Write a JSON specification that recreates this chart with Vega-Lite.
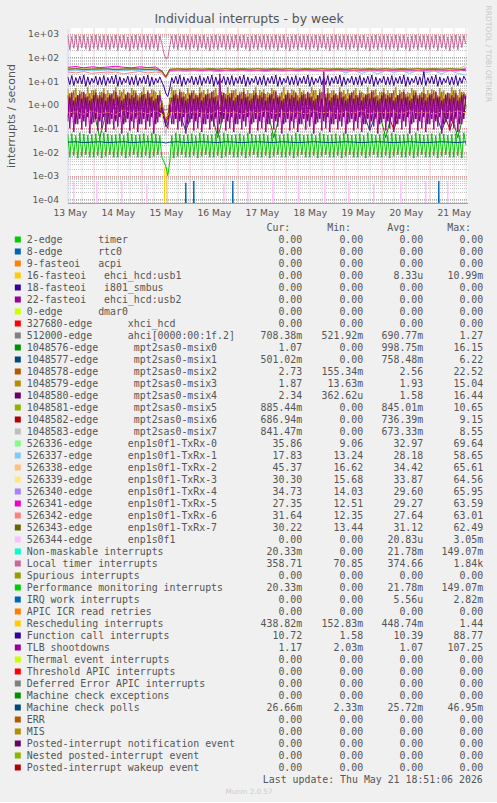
{
"$schema":"https://vega.github.io/schema/vega-lite/v6.json",
"background":"#F0F0F0",
"padding":{"left":5.5,"top":5,"right":6,"bottom":7},
"autosize":{"type":"pad"},
"bounds":"flush",
"spacing":24.5,
"resolve":{"scale":{"color":"independent"}},
"config":{
 "view":{"stroke":null},
 "axis":{"labelFont":"DejaVu Sans","titleFont":"DejaVu Sans","labelColor":"#555555","titleColor":"#555555","titleFontWeight":"normal"},
 "text":{"font":"DejaVu Sans Mono","fontSize":9.9,"color":"#555555"}
},
"datasets":{
"hr":[
{"h":11,"L":820,"F":15,"T":2.5,"a":0.3,"b":4.5,"c":0.2,"P":0.055},
{"h":12,"L":210,"F":7,"T":0.1,"a":3,"b":0.5,"c":2,"P":0.006},
{"h":13,"L":760,"F":17,"T":3,"a":0.5,"b":3.5,"c":0.3,"P":0.06},
{"h":14,"L":240,"F":6.5,"T":0.07,"a":4,"b":0.4,"c":1.5,"P":0.007},
{"h":15,"L":880,"F":14,"T":2,"a":0.25,"b":5,"c":0.15,"P":0.05},
{"h":16,"L":195,"F":8,"T":0.15,"a":2.5,"b":0.6,"c":2.5,"P":0.0055},
{"h":17,"L":790,"F":16,"T":2.8,"a":0.4,"b":4,"c":0.25,"P":0.065},
{"h":18,"L":250,"F":7.5,"T":0.09,"a":3.5,"b":0.35,"c":1.8,"P":0.0065},
{"h":19,"L":850,"F":18,"T":3.5,"a":0.35,"b":3,"c":0.2,"P":0.058},
{"h":20,"L":220,"F":6,"T":0.12,"a":2.8,"b":0.7,"c":2,"P":0.0075},
{"h":21,"L":730,"F":15,"T":2.2,"a":0.3,"b":5.5,"c":0.3,"P":0.052},
{"h":22,"L":185,"F":7,"T":0.06,"a":3,"b":0.45,"c":1.5,"P":0.006},
{"h":23,"L":810,"F":13,"T":1.8,"a":0.5,"b":4.2,"c":0.15,"P":0.055},
{"h":24,"L":235,"F":8.5,"T":0.18,"a":4,"b":0.55,"c":2.5,"P":0.006},
{"h":25,"L":870,"F":16,"T":3.2,"a":0.25,"b":4.5,"c":0.25,"P":0.06},
{"h":26,"L":205,"F":6.8,"T":0.08,"a":2.5,"b":0.5,"c":1.8,"P":0.007},
{"h":27,"L":780,"F":15,"T":2.5,"a":0.4,"b":3.5,"c":0.2,"P":0.05},
{"h":28,"L":260,"F":7,"T":0.1,"a":3.5,"b":0.4,"c":2,"P":0.0055},
{"h":29,"L":840,"F":17,"T":3,"a":0.35,"b":5,"c":0.3,"P":0.065},
{"h":30,"L":215,"F":6.5,"T":0.07,"a":2.8,"b":0.6,"c":1.5,"P":0.0065},
{"h":31,"L":820,"F":14,"T":2,"a":0.3,"b":4,"c":0.15,"P":0.058},
{"h":32,"L":210,"F":8,"T":0.15,"a":3,"b":0.35,"c":2.5,"P":0.0075},
{"h":33,"L":760,"F":16,"T":2.8,"a":0.5,"b":3,"c":0.25,"P":0.052},
{"h":34,"L":240,"F":7.5,"T":0.09,"a":4,"b":0.7,"c":1.8,"P":0.006},
{"h":35,"L":880,"F":18,"T":3.5,"a":0.25,"b":5.5,"c":0.2,"P":0.055},
{"h":36,"L":195,"F":6,"T":0.12,"a":2.5,"b":0.45,"c":2,"P":0.006},
{"h":37,"L":790,"F":15,"T":2.2,"a":0.4,"b":4.2,"c":0.3,"P":0.06},
{"h":38,"L":250,"F":7,"T":0.06,"a":3.5,"b":0.55,"c":1.5,"P":0.007},
{"h":39,"L":850,"F":13,"T":1.8,"a":0.35,"b":4.5,"c":0.15,"P":0.05},
{"h":40,"L":220,"F":8.5,"T":0.18,"a":2.8,"b":0.5,"c":2.5,"P":0.0055},
{"h":41,"L":730,"F":16,"T":3.2,"a":0.3,"b":3.5,"c":0.25,"P":0.065},
{"h":42,"L":185,"F":6.8,"T":0.08,"a":3,"b":0.4,"c":1.8,"P":0.0065},
{"h":43,"L":810,"F":15,"T":2.5,"a":0.5,"b":5,"c":0.2,"P":0.058},
{"h":44,"L":235,"F":7,"T":0.1,"a":4,"b":0.6,"c":2,"P":0.0075},
{"h":45,"L":870,"F":17,"T":3,"a":0.25,"b":4,"c":0.3,"P":0.052},
{"h":46,"L":205,"F":6.5,"T":0.07,"a":2.5,"b":0.35,"c":1.5,"P":0.006},
{"h":47,"L":780,"F":14,"T":2,"a":0.4,"b":3,"c":0.15,"P":0.055},
{"h":48,"L":260,"F":8,"T":0.15,"a":3.5,"b":0.7,"c":2.5,"P":0.006},
{"h":49,"L":840,"F":16,"T":2.8,"a":0.35,"b":5.5,"c":0.25,"P":0.06},
{"h":50,"L":215,"F":7.5,"T":0.09,"a":2.8,"b":0.45,"c":1.8,"P":0.007},
{"h":51,"L":820,"F":18,"T":3.5,"a":0.3,"b":4.2,"c":0.2,"P":0.05},
{"h":52,"L":210,"F":6,"T":0.12,"a":3,"b":0.55,"c":2,"P":0.0055},
{"h":53,"L":760,"F":15,"T":2.2,"a":0.5,"b":4.5,"c":0.3,"P":0.065},
{"h":54,"L":240,"F":7,"T":0.06,"a":4,"b":0.5,"c":1.5,"P":0.0065},
{"h":55,"L":880,"F":13,"T":1.8,"a":0.25,"b":3.5,"c":0.15,"P":0.058},
{"h":56,"L":195,"F":8.5,"T":0.18,"a":2.5,"b":0.4,"c":2.5,"P":0.0075},
{"h":57,"L":800,"F":15,"T":2.5,"a":0.4,"b":4,"c":0.3,"P":0.05},
{"h":58,"L":400,"F":9,"T":0.8,"a":1.5,"b":1,"c":0.8,"P":0.006},
{"h":59,"L":150,"F":6,"T":0.4,"a":0.5,"b":0.4,"c":0.3,"P":0.004},
{"h":60,"L":88,"F":3,"T":0.15,"a":0.2,"b":0.25,"c":0.12,"P":0.0025},
{"h":61,"L":95,"F":2.2,"T":0.1,"a":0.3,"b":0.3,"c":0.15,"P":0.001},
{"h":62,"L":300,"F":5,"T":0.5,"a":2,"b":0.6,"c":1,"P":0.004},
{"h":63,"L":810,"F":14,"T":2,"a":0.5,"b":5.5,"c":0.15,"P":0.05},
{"h":64,"L":235,"F":8,"T":0.15,"a":4,"b":0.45,"c":2.5,"P":0.0055},
{"h":65,"L":870,"F":16,"T":2.8,"a":0.25,"b":4.2,"c":0.25,"P":0.065},
{"h":66,"L":205,"F":7.5,"T":0.09,"a":2.5,"b":0.55,"c":1.8,"P":0.0065},
{"h":67,"L":780,"F":18,"T":3.5,"a":0.4,"b":4.5,"c":0.2,"P":0.058},
{"h":68,"L":260,"F":6,"T":0.12,"a":3.5,"b":0.5,"c":2,"P":0.0075},
{"h":69,"L":840,"F":15,"T":2.2,"a":0.35,"b":3.5,"c":0.3,"P":0.052},
{"h":70,"L":215,"F":7,"T":0.06,"a":2.8,"b":0.4,"c":1.5,"P":0.006},
{"h":71,"L":820,"F":13,"T":1.8,"a":0.3,"b":5,"c":0.15,"P":0.055},
{"h":72,"L":210,"F":8.5,"T":0.18,"a":3,"b":0.6,"c":2.5,"P":0.006},
{"h":73,"L":760,"F":16,"T":3.2,"a":0.5,"b":4,"c":0.25,"P":0.06},
{"h":74,"L":240,"F":6.8,"T":0.08,"a":4,"b":0.35,"c":1.8,"P":0.007},
{"h":75,"L":880,"F":15,"T":2.5,"a":0.25,"b":3,"c":0.2,"P":0.05},
{"h":76,"L":195,"F":7,"T":0.1,"a":2.5,"b":0.7,"c":2,"P":0.0055},
{"h":77,"L":790,"F":17,"T":3,"a":0.4,"b":5.5,"c":0.3,"P":0.065},
{"h":78,"L":250,"F":6.5,"T":0.07,"a":3.5,"b":0.45,"c":1.5,"P":0.0065},
{"h":79,"L":850,"F":14,"T":2,"a":0.35,"b":4.2,"c":0.15,"P":0.058},
{"h":80,"L":220,"F":8,"T":0.15,"a":2.8,"b":0.55,"c":2.5,"P":0.0075},
{"h":81,"L":730,"F":16,"T":2.8,"a":0.3,"b":4.5,"c":0.25,"P":0.052},
{"h":82,"L":185,"F":7.5,"T":0.09,"a":3,"b":0.5,"c":1.8,"P":0.006},
{"h":83,"L":810,"F":18,"T":3.5,"a":0.5,"b":3.5,"c":0.2,"P":0.055},
{"h":84,"L":235,"F":6,"T":0.12,"a":4,"b":0.4,"c":2,"P":0.006},
{"h":85,"L":870,"F":15,"T":2.2,"a":0.25,"b":5,"c":0.3,"P":0.06},
{"h":86,"L":205,"F":7,"T":0.06,"a":2.5,"b":0.6,"c":1.5,"P":0.007},
{"h":87,"L":780,"F":13,"T":20,"a":0.4,"b":4,"c":0.15,"P":0.05},
{"h":88,"L":260,"F":8.5,"T":0.18,"a":3.5,"b":0.35,"c":2.5,"P":0.0055},
{"h":89,"L":840,"F":16,"T":3.2,"a":0.35,"b":3,"c":0.25,"P":0.065},
{"h":90,"L":215,"F":6.8,"T":0.08,"a":2.8,"b":0.7,"c":1.8,"P":0.0065},
{"h":91,"L":820,"F":15,"T":2.5,"a":0.3,"b":5.5,"c":0.2,"P":0.058},
{"h":92,"L":210,"F":7,"T":0.1,"a":3,"b":0.45,"c":2,"P":0.0075},
{"h":93,"L":760,"F":17,"T":3,"a":0.5,"b":4.2,"c":0.3,"P":0.052},
{"h":94,"L":240,"F":6.5,"T":0.07,"a":4,"b":0.55,"c":1.5,"P":0.006},
{"h":95,"L":880,"F":14,"T":2,"a":0.25,"b":4.5,"c":0.15,"P":0.055},
{"h":96,"L":195,"F":8,"T":0.15,"a":2.5,"b":0.5,"c":2.5,"P":0.006},
{"h":97,"L":790,"F":16,"T":2.8,"a":0.4,"b":3.5,"c":0.25,"P":0.06},
{"h":98,"L":250,"F":7.5,"T":0.09,"a":3.5,"b":0.4,"c":1.8,"P":0.007},
{"h":99,"L":850,"F":18,"T":3.5,"a":0.35,"b":5,"c":0.2,"P":0.05},
{"h":100,"L":220,"F":6,"T":0.12,"a":2.8,"b":0.6,"c":2,"P":0.0055},
{"h":101,"L":730,"F":15,"T":2.2,"a":0.3,"b":4,"c":0.3,"P":0.065},
{"h":102,"L":185,"F":7,"T":0.06,"a":3,"b":0.35,"c":1.5,"P":0.0065},
{"h":103,"L":810,"F":13,"T":1.8,"a":0.5,"b":3,"c":0.15,"P":0.058},
{"h":104,"L":235,"F":8.5,"T":0.18,"a":4,"b":0.7,"c":2.5,"P":0.0075},
{"h":105,"L":870,"F":16,"T":3.2,"a":0.25,"b":5.5,"c":0.25,"P":0.052},
{"h":106,"L":205,"F":6.8,"T":0.08,"a":2.5,"b":0.45,"c":1.8,"P":0.006},
{"h":107,"L":780,"F":15,"T":2.5,"a":0.4,"b":4.2,"c":0.2,"P":0.055},
{"h":108,"L":260,"F":7,"T":0.1,"a":3.5,"b":0.55,"c":2,"P":0.006},
{"h":109,"L":840,"F":17,"T":3,"a":0.35,"b":4.5,"c":0.3,"P":0.06},
{"h":110,"L":215,"F":6.5,"T":0.07,"a":2.8,"b":0.5,"c":1.5,"P":0.007},
{"h":111,"L":820,"F":14,"T":2,"a":0.3,"b":3.5,"c":0.15,"P":0.05},
{"h":112,"L":210,"F":8,"T":0.15,"a":3,"b":0.4,"c":2.5,"P":0.0055},
{"h":113,"L":760,"F":16,"T":2.8,"a":0.5,"b":5,"c":0.25,"P":0.065},
{"h":114,"L":240,"F":7.5,"T":0.09,"a":4,"b":0.6,"c":1.8,"P":0.0065},
{"h":115,"L":880,"F":18,"T":3.5,"a":0.25,"b":4,"c":0.2,"P":0.058},
{"h":116,"L":195,"F":6,"T":0.12,"a":2.5,"b":0.35,"c":2,"P":0.0075},
{"h":117,"L":790,"F":15,"T":2.2,"a":0.4,"b":3,"c":0.3,"P":0.052},
{"h":118,"L":250,"F":7,"T":0.06,"a":3.5,"b":0.7,"c":1.5,"P":0.006},
{"h":119,"L":850,"F":13,"T":1.8,"a":0.35,"b":5.5,"c":0.15,"P":0.055},
{"h":120,"L":220,"F":8.5,"T":0.18,"a":2.8,"b":0.45,"c":2.5,"P":0.006},
{"h":121,"L":730,"F":16,"T":3.2,"a":0.3,"b":4.2,"c":0.25,"P":0.06},
{"h":122,"L":185,"F":6.8,"T":0.08,"a":3,"b":0.55,"c":1.8,"P":0.007},
{"h":123,"L":810,"F":15,"T":2.5,"a":0.5,"b":4.5,"c":0.2,"P":0.05},
{"h":124,"L":235,"F":7,"T":0.1,"a":4,"b":0.5,"c":2,"P":0.0055},
{"h":125,"L":870,"F":17,"T":3,"a":0.25,"b":3.5,"c":0.3,"P":0.065},
{"h":126,"L":205,"F":6.5,"T":0.07,"a":2.5,"b":0.4,"c":1.5,"P":0.0065},
{"h":127,"L":780,"F":14,"T":2,"a":0.4,"b":5,"c":0.15,"P":0.058},
{"h":128,"L":260,"F":8,"T":0.15,"a":3.5,"b":0.6,"c":2.5,"P":0.0075},
{"h":129,"L":840,"F":16,"T":2.8,"a":0.35,"b":4,"c":0.25,"P":0.052},
{"h":130,"L":215,"F":7.5,"T":0.09,"a":2.8,"b":0.35,"c":1.8,"P":0.006},
{"h":131,"L":820,"F":18,"T":3.5,"a":0.3,"b":3,"c":0.2,"P":0.055},
{"h":132,"L":210,"F":6,"T":0.12,"a":3,"b":0.7,"c":2,"P":0.006},
{"h":133,"L":760,"F":15,"T":2.2,"a":0.5,"b":5.5,"c":0.3,"P":0.06},
{"h":134,"L":240,"F":7,"T":0.06,"a":4,"b":0.45,"c":1.5,"P":0.007},
{"h":135,"L":880,"F":13,"T":1.8,"a":0.25,"b":4.2,"c":0.15,"P":0.05},
{"h":136,"L":195,"F":8.5,"T":0.18,"a":2.5,"b":0.55,"c":2.5,"P":0.0055},
{"h":137,"L":790,"F":16,"T":3.2,"a":0.4,"b":4.5,"c":0.25,"P":0.065},
{"h":138,"L":250,"F":6.8,"T":0.08,"a":3.5,"b":0.5,"c":1.8,"P":0.0065},
{"h":139,"L":850,"F":15,"T":25,"a":0.35,"b":3.5,"c":0.2,"P":0.058},
{"h":140,"L":220,"F":7,"T":0.1,"a":2.8,"b":0.4,"c":2,"P":0.0075},
{"h":141,"L":730,"F":17,"T":3,"a":0.3,"b":5,"c":0.3,"P":0.052},
{"h":142,"L":185,"F":6.5,"T":0.07,"a":3,"b":0.6,"c":1.5,"P":0.006},
{"h":143,"L":810,"F":14,"T":2,"a":0.5,"b":4,"c":0.15,"P":0.055},
{"h":144,"L":235,"F":8,"T":0.15,"a":4,"b":0.35,"c":2.5,"P":0.006},
{"h":145,"L":870,"F":16,"T":2.8,"a":0.25,"b":3,"c":0.25,"P":0.06},
{"h":146,"L":205,"F":7.5,"T":0.09,"a":2.5,"b":0.7,"c":1.8,"P":0.007},
{"h":147,"L":780,"F":18,"T":3.5,"a":0.4,"b":5.5,"c":0.2,"P":0.05},
{"h":148,"L":260,"F":6,"T":0.12,"a":3.5,"b":0.45,"c":2,"P":0.0055},
{"h":149,"L":840,"F":15,"T":2.2,"a":0.35,"b":4.2,"c":0.3,"P":0.065},
{"h":150,"L":215,"F":7,"T":0.06,"a":2.8,"b":0.55,"c":1.5,"P":0.0065},
{"h":151,"L":820,"F":13,"T":1.8,"a":0.3,"b":4.5,"c":0.15,"P":0.058},
{"h":152,"L":210,"F":8.5,"T":0.18,"a":3,"b":0.5,"c":2.5,"P":0.0075},
{"h":153,"L":760,"F":16,"T":3.2,"a":0.5,"b":3.5,"c":0.25,"P":0.052},
{"h":154,"L":240,"F":6.8,"T":0.08,"a":4,"b":0.4,"c":1.8,"P":0.006},
{"h":155,"L":880,"F":15,"T":2.5,"a":0.25,"b":5,"c":0.2,"P":0.055},
{"h":156,"L":195,"F":7,"T":0.1,"a":2.5,"b":0.6,"c":2,"P":0.006},
{"h":157,"L":790,"F":17,"T":3,"a":0.4,"b":4,"c":0.3,"P":0.06},
{"h":158,"L":250,"F":6.5,"T":0.07,"a":3.5,"b":0.35,"c":1.5,"P":0.007},
{"h":159,"L":850,"F":14,"T":2,"a":0.35,"b":3,"c":0.15,"P":0.05},
{"h":160,"L":220,"F":8,"T":0.15,"a":2.8,"b":0.7,"c":2.5,"P":0.0055},
{"h":161,"L":730,"F":16,"T":2.8,"a":0.3,"b":5.5,"c":0.25,"P":0.065},
{"h":162,"L":185,"F":7.5,"T":0.09,"a":3,"b":0.45,"c":1.8,"P":0.0065},
{"h":163,"L":810,"F":18,"T":3.5,"a":0.5,"b":4.2,"c":0.2,"P":0.058},
{"h":164,"L":235,"F":6,"T":0.12,"a":4,"b":0.55,"c":2,"P":0.0075},
{"h":165,"L":870,"F":15,"T":2.2,"a":0.25,"b":4.5,"c":0.3,"P":0.052},
{"h":166,"L":205,"F":7,"T":0.06,"a":2.5,"b":0.5,"c":1.5,"P":0.006},
{"h":167,"L":780,"F":13,"T":1.8,"a":0.4,"b":3.5,"c":0.15,"P":0.055},
{"h":168,"L":260,"F":8.5,"T":0.18,"a":3.5,"b":0.4,"c":2.5,"P":0.006},
{"h":169,"L":840,"F":16,"T":3.2,"a":0.35,"b":5,"c":0.25,"P":0.06},
{"h":170,"L":215,"F":6.8,"T":0.08,"a":2.8,"b":0.6,"c":1.8,"P":0.007},
{"h":171,"L":820,"F":15,"T":2.5,"a":0.3,"b":4,"c":0.2,"P":0.05},
{"h":172,"L":210,"F":7,"T":0.1,"a":3,"b":0.35,"c":2,"P":0.0055},
{"h":173,"L":760,"F":17,"T":3,"a":0.5,"b":3,"c":0.3,"P":0.065},
{"h":174,"L":240,"F":6.5,"T":0.07,"a":4,"b":0.7,"c":1.5,"P":0.0065},
{"h":175,"L":880,"F":14,"T":2,"a":0.25,"b":5.5,"c":0.15,"P":0.058},
{"h":176,"L":195,"F":8,"T":0.15,"a":2.5,"b":0.45,"c":2.5,"P":0.0075},
{"h":177,"L":790,"F":16,"T":2.8,"a":0.4,"b":4.2,"c":0.25,"P":0.052},
{"h":178,"L":250,"F":7.5,"T":0.09,"a":3.5,"b":0.55,"c":1.8,"P":0.006},
{"h":179,"L":850,"F":18,"T":3.5,"a":0.35,"b":4.5,"c":0.2,"P":0.055},
{"h":180,"L":220,"F":6,"T":0.12,"a":2.8,"b":0.5,"c":2,"P":0.006},
{"h":181,"L":730,"F":15,"T":2.2,"a":0.3,"b":3.5,"c":0.3,"P":0.06},
{"h":182,"L":185,"F":7,"T":0.06,"a":3,"b":0.4,"c":1.5,"P":0.007},
{"h":183,"L":810,"F":13,"T":1.8,"a":0.5,"b":5,"c":0.15,"P":0.05},
{"h":184,"L":235,"F":8.5,"T":0.18,"a":4,"b":0.6,"c":2.5,"P":0.0055},
{"h":185,"L":870,"F":16,"T":3.2,"a":0.25,"b":4,"c":0.25,"P":0.065},
{"h":186,"L":205,"F":6.8,"T":0.08,"a":2.5,"b":0.35,"c":1.8,"P":0.0065},
{"h":187,"L":780,"F":15,"T":2.5,"a":0.4,"b":3,"c":0.2,"P":0.058},
{"h":188,"L":260,"F":7,"T":0.1,"a":3.5,"b":0.7,"c":2,"P":0.0075},
{"h":189,"L":840,"F":25,"T":3,"a":0.35,"b":5.5,"c":0.3,"P":0.052},
{"h":190,"L":215,"F":6.5,"T":0.07,"a":2.8,"b":0.45,"c":1.5,"P":0.006},
{"h":191,"L":820,"F":14,"T":2,"a":0.3,"b":4.2,"c":0.15,"P":0.055},
{"h":192,"L":210,"F":8,"T":0.15,"a":3,"b":0.55,"c":2.5,"P":0.006},
{"h":193,"L":760,"F":16,"T":2.8,"a":0.5,"b":4.5,"c":0.25,"P":0.06},
{"h":194,"L":240,"F":7.5,"T":0.09,"a":4,"b":0.5,"c":1.8,"P":0.007},
{"h":195,"L":880,"F":18,"T":3.5,"a":0.25,"b":3.5,"c":0.2,"P":0.05},
{"h":196,"L":195,"F":6,"T":0.12,"a":2.5,"b":0.4,"c":2,"P":0.0055},
{"h":197,"L":790,"F":15,"T":2.2,"a":0.4,"b":5,"c":0.3,"P":0.065},
{"h":198,"L":250,"F":7,"T":0.06,"a":3.5,"b":0.6,"c":1.5,"P":0.0065},
{"h":199,"L":850,"F":13,"T":1.8,"a":0.35,"b":4,"c":0.15,"P":0.058},
{"h":200,"L":220,"F":8.5,"T":0.18,"a":2.8,"b":0.35,"c":2.5,"P":0.0075},
{"h":201,"L":730,"F":16,"T":3.2,"a":0.3,"b":3,"c":0.25,"P":0.052},
{"h":202,"L":185,"F":6.8,"T":0.08,"a":3,"b":0.7,"c":1.8,"P":0.006},
{"h":203,"L":810,"F":15,"T":2.5,"a":0.5,"b":5.5,"c":0.2,"P":0.055},
{"h":204,"L":235,"F":7,"T":0.1,"a":4,"b":0.45,"c":2,"P":0.006},
{"h":205,"L":870,"F":17,"T":3,"a":0.25,"b":4.2,"c":0.3,"P":0.06},
{"h":206,"L":205,"F":6.5,"T":0.07,"a":2.5,"b":0.55,"c":1.5,"P":0.007},
{"h":207,"L":780,"F":14,"T":2,"a":0.4,"b":4.5,"c":0.15,"P":0.05},
{"h":208,"L":260,"F":8,"T":0.15,"a":3.5,"b":0.5,"c":2.5,"P":0.0055},
{"h":209,"L":840,"F":16,"T":2.8,"a":0.35,"b":3.5,"c":0.25,"P":0.065},
{"h":210,"L":359,"F":10.7,"T":1.17,"a":2.73,"b":1.87,"c":2.34,"P":0.02}
],
"sl":[
{"h":11,"A":0.70,"d":0.9,"f":0.7,"g":0.8,"i":0.7,"j":0.6,"t0":32,"t1":28,"t2":35,"t3":33,"t4":31,"t5":38,"t6":24,"t7":32,"R":0.45,"M":0.026},
{"h":15,"A":0.68,"d":1.1,"f":0.6,"g":0.9,"i":0.6,"j":0.5,"t0":31,"t1":27,"t2":34,"t3":32,"t4":33,"t5":41,"t6":22,"t7":33,"R":0.5,"M":0.027},
{"h":19,"A":0.71,"d":0.8,"f":0.8,"g":0.7,"i":0.8,"j":0.65,"t0":33,"t1":29,"t2":36,"t3":31,"t4":30,"t5":36,"t6":25,"t7":31,"R":0.4,"M":0.025},
{"h":23,"A":0.69,"d":1.2,"f":0.65,"g":0.85,"i":0.7,"j":0.55,"t0":30,"t1":27,"t2":33,"t3":34,"t4":32,"t5":40,"t6":21,"t7":32,"R":0.55,"M":0.026},
{"h":27,"A":0.72,"d":0.04,"f":0.75,"g":0.8,"i":0.65,"j":0.6,"t0":32,"t1":28,"t2":35,"t3":32,"t4":31,"t5":37,"t6":23,"t7":33,"R":0.42,"M":0.027},
{"h":31,"A":0.70,"d":0.9,"f":0.6,"g":0.9,"i":0.75,"j":0.5,"t0":31,"t1":26,"t2":34,"t3":33,"t4":34,"t5":39,"t6":22,"t7":32,"R":0.48,"M":0.025},
{"h":35,"A":0.68,"d":1.0,"f":0.7,"g":0.75,"i":0.7,"j":0.08,"t0":33,"t1":28,"t2":36,"t3":31,"t4":30,"t5":42,"t6":24,"t7":31,"R":0.38,"M":0.026},
{"h":39,"A":0.71,"d":0.85,"f":0.8,"g":0.2,"i":0.6,"j":0.6,"t0":30,"t1":27,"t2":33,"t3":32,"t4":32,"t5":38,"t6":20,"t7":32,"R":0.6,"M":0.027},
{"h":43,"A":0.70,"d":1.3,"f":0.65,"g":0.8,"i":0.8,"j":0.55,"t0":32,"t1":29,"t2":35,"t3":33,"t4":31,"t5":36,"t6":23,"t7":33,"R":0.45,"M":0.025},
{"h":47,"A":0.69,"d":0.9,"f":0.7,"g":0.9,"i":0.7,"j":0.6,"t0":31,"t1":28,"t2":34,"t3":34,"t4":33,"t5":40,"t6":25,"t7":32,"R":0.5,"M":0.026},
{"h":51,"A":0.72,"d":1.1,"f":0.6,"g":0.8,"i":0.65,"j":0.5,"t0":33,"t1":27,"t2":36,"t3":32,"t4":30,"t5":37,"t6":22,"t7":31,"R":0.42,"M":0.027},
{"h":55,"A":0.70,"d":0.8,"f":0.75,"g":0.85,"i":0.7,"j":0.65,"t0":31,"t1":28,"t2":34,"t3":33,"t4":32,"t5":39,"t6":24,"t7":32,"R":0.55,"M":0.026},
{"h":58,"A":0.68,"d":0.6,"f":0.5,"g":0.5,"i":0.5,"j":0.4,"t0":26,"t1":24,"t2":27,"t3":26,"t4":25,"t5":27,"t6":22,"t7":26,"R":0.4,"M":0.026},
{"h":60,"A":0.60,"d":0.2,"f":0.15,"g":0.2,"i":0.2,"j":0.06,"t0":15,"t1":14,"t2":16,"t3":15,"t4":14,"t5":15,"t6":13,"t7":15,"R":0.3,"M":0.024},
{"h":62,"A":0.70,"d":0.7,"f":0.6,"g":0.7,"i":0.6,"j":0.5,"t0":30,"t1":27,"t2":31,"t3":30,"t4":28,"t5":29,"t6":26,"t7":32,"R":0.45,"M":0.026},
{"h":66,"A":0.71,"d":0.9,"f":0.7,"g":0.8,"i":0.7,"j":0.6,"t0":31,"t1":28,"t2":32,"t3":31,"t4":28,"t5":29,"t6":27,"t7":33,"R":0.48,"M":0.027},
{"h":70,"A":0.69,"d":1.0,"f":0.08,"g":0.9,"i":0.75,"j":0.55,"t0":32,"t1":27,"t2":33,"t3":30,"t4":27,"t5":30,"t6":26,"t7":32,"R":0.42,"M":0.025},
{"h":74,"A":0.70,"d":0.8,"f":0.65,"g":0.8,"i":0.7,"j":0.6,"t0":30,"t1":28,"t2":32,"t3":31,"t4":28,"t5":29,"t6":27,"t7":33,"R":0.5,"M":0.026},
{"h":78,"A":0.72,"d":1.2,"f":0.7,"g":0.85,"i":0.65,"j":0.5,"t0":31,"t1":29,"t2":31,"t3":32,"t4":29,"t5":28,"t6":26,"t7":32,"R":0.45,"M":0.027},
{"h":82,"A":0.70,"d":0.9,"f":0.6,"g":0.8,"i":0.7,"j":0.6,"t0":31,"t1":28,"t2":33,"t3":31,"t4":28,"t5":30,"t6":27,"t7":33,"R":0.4,"M":0.026},
{"h":86,"A":0.68,"d":0.04,"f":0.75,"g":0.9,"i":0.75,"j":0.65,"t0":32,"t1":27,"t2":32,"t3":30,"t4":27,"t5":29,"t6":25,"t7":32,"R":0.55,"M":0.025},
{"h":90,"A":0.71,"d":1.0,"f":0.7,"g":0.8,"i":0.7,"j":0.55,"t0":30,"t1":28,"t2":32,"t3":31,"t4":28,"t5":28,"t6":27,"t7":33,"R":0.45,"M":0.027},
{"h":94,"A":0.70,"d":0.85,"f":0.65,"g":0.75,"i":0.6,"j":0.6,"t0":31,"t1":27,"t2":33,"t3":32,"t4":29,"t5":29,"t6":26,"t7":32,"R":0.48,"M":0.026},
{"h":98,"A":0.69,"d":1.1,"f":0.7,"g":0.85,"i":0.7,"j":0.5,"t0":31,"t1":28,"t2":32,"t3":30,"t4":28,"t5":30,"t6":27,"t7":33,"R":0.4,"M":0.025},
{"h":102,"A":0.71,"d":0.9,"f":0.6,"g":0.8,"i":0.75,"j":0.6,"t0":32,"t1":29,"t2":31,"t3":31,"t4":27,"t5":29,"t6":26,"t7":32,"R":0.5,"M":0.026},
{"h":106,"A":0.70,"d":0.8,"f":0.75,"g":0.9,"i":0.7,"j":0.55,"t0":30,"t1":28,"t2":33,"t3":32,"t4":28,"t5":28,"t6":27,"t7":33,"R":0.45,"M":0.027},
{"h":110,"A":0.72,"d":1.2,"f":0.7,"g":0.8,"i":0.65,"j":0.6,"t0":31,"t1":27,"t2":32,"t3":31,"t4":29,"t5":29,"t6":25,"t7":32,"R":0.55,"M":0.026},
{"h":114,"A":0.70,"d":0.04,"f":0.65,"g":0.85,"i":0.7,"j":0.5,"t0":31,"t1":28,"t2":32,"t3":30,"t4":28,"t5":30,"t6":27,"t7":33,"R":0.42,"M":0.025},
{"h":118,"A":0.69,"d":0.9,"f":0.7,"g":0.8,"i":0.7,"j":0.6,"t0":32,"t1":28,"t2":33,"t3":31,"t4":27,"t5":29,"t6":26,"t7":32,"R":0.48,"M":0.027},
{"h":122,"A":0.71,"d":1.0,"f":0.6,"g":0.9,"i":0.75,"j":0.55,"t0":30,"t1":29,"t2":32,"t3":32,"t4":28,"t5":28,"t6":27,"t7":33,"R":0.45,"M":0.026},
{"h":126,"A":0.70,"d":0.85,"f":0.75,"g":0.8,"i":0.6,"j":0.6,"t0":31,"t1":27,"t2":31,"t3":31,"t4":28,"t5":29,"t6":26,"t7":32,"R":0.5,"M":0.025},
{"h":130,"A":0.68,"d":1.1,"f":0.7,"g":0.75,"i":0.7,"j":0.08,"t0":31,"t1":28,"t2":33,"t3":30,"t4":29,"t5":30,"t6":27,"t7":33,"R":0.4,"M":0.026},
{"h":134,"A":0.71,"d":0.9,"f":0.65,"g":0.85,"i":0.7,"j":0.6,"t0":32,"t1":28,"t2":32,"t3":31,"t4":28,"t5":29,"t6":26,"t7":32,"R":0.55,"M":0.027},
{"h":138,"A":0.70,"d":0.8,"f":0.7,"g":0.8,"i":0.75,"j":0.55,"t0":30,"t1":27,"t2":32,"t3":32,"t4":27,"t5":28,"t6":27,"t7":33,"R":0.45,"M":0.026},
{"h":142,"A":0.72,"d":1.2,"f":0.6,"g":0.9,"i":0.7,"j":0.6,"t0":31,"t1":28,"t2":33,"t3":31,"t4":28,"t5":29,"t6":26,"t7":32,"R":0.48,"M":0.025},
{"h":146,"A":0.70,"d":0.9,"f":0.75,"g":0.8,"i":0.65,"j":0.5,"t0":31,"t1":29,"t2":32,"t3":30,"t4":28,"t5":30,"t6":27,"t7":33,"R":0.42,"M":0.026},
{"h":150,"A":0.69,"d":1.0,"f":0.7,"g":0.85,"i":0.7,"j":0.6,"t0":32,"t1":22,"t2":31,"t3":31,"t4":29,"t5":29,"t6":26,"t7":32,"R":0.5,"M":0.027},
{"h":154,"A":0.71,"d":0.85,"f":0.65,"g":0.8,"i":0.7,"j":0.55,"t0":30,"t1":28,"t2":33,"t3":32,"t4":28,"t5":28,"t6":27,"t7":33,"R":0.45,"M":0.026},
{"h":158,"A":0.70,"d":1.1,"f":0.7,"g":0.9,"i":0.75,"j":0.6,"t0":31,"t1":21,"t2":32,"t3":31,"t4":27,"t5":29,"t6":26,"t7":32,"R":0.55,"M":0.025},
{"h":162,"A":0.68,"d":0.9,"f":0.08,"g":0.8,"i":0.7,"j":0.5,"t0":31,"t1":27,"t2":32,"t3":30,"t4":28,"t5":30,"t6":27,"t7":33,"R":0.4,"M":0.026},
{"h":166,"A":0.71,"d":0.8,"f":0.7,"g":0.75,"i":0.65,"j":0.6,"t0":32,"t1":20,"t2":33,"t3":31,"t4":28,"t5":29,"t6":26,"t7":32,"R":0.48,"M":0.027},
{"h":170,"A":0.70,"d":0.04,"f":0.65,"g":0.85,"i":0.7,"j":0.55,"t0":30,"t1":28,"t2":32,"t3":32,"t4":29,"t5":28,"t6":27,"t7":33,"R":0.45,"M":0.026},
{"h":174,"A":0.72,"d":1.0,"f":0.7,"g":0.8,"i":0.09,"j":0.6,"t0":31,"t1":23,"t2":31,"t3":31,"t4":28,"t5":29,"t6":26,"t7":32,"R":0.5,"M":0.025},
{"h":178,"A":0.70,"d":0.9,"f":0.6,"g":0.9,"i":0.7,"j":0.5,"t0":31,"t1":27,"t2":33,"t3":30,"t4":27,"t5":30,"t6":27,"t7":33,"R":0.42,"M":0.026},
{"h":182,"A":0.69,"d":1.1,"f":0.75,"g":0.8,"i":0.75,"j":0.6,"t0":32,"t1":21,"t2":32,"t3":31,"t4":28,"t5":29,"t6":26,"t7":32,"R":0.55,"M":0.027},
{"h":186,"A":0.71,"d":0.85,"f":0.7,"g":0.85,"i":0.7,"j":0.55,"t0":30,"t1":28,"t2":32,"t3":32,"t4":28,"t5":28,"t6":27,"t7":33,"R":0.45,"M":0.026},
{"h":190,"A":0.70,"d":1.2,"f":0.65,"g":0.8,"i":0.6,"j":0.6,"t0":31,"t1":22,"t2":33,"t3":31,"t4":29,"t5":29,"t6":26,"t7":32,"R":0.48,"M":0.025},
{"h":194,"A":0.68,"d":0.9,"f":0.7,"g":0.9,"i":0.7,"j":0.5,"t0":31,"t1":27,"t2":32,"t3":30,"t4":28,"t5":30,"t6":27,"t7":33,"R":0.4,"M":0.026},
{"h":198,"A":0.71,"d":1.0,"f":0.08,"g":0.8,"i":0.75,"j":0.6,"t0":32,"t1":20,"t2":31,"t3":31,"t4":27,"t5":29,"t6":26,"t7":32,"R":0.5,"M":0.027},
{"h":202,"A":0.70,"d":0.8,"f":0.7,"g":0.75,"i":0.09,"j":0.55,"t0":30,"t1":28,"t2":33,"t3":32,"t4":28,"t5":28,"t6":27,"t7":33,"R":0.45,"M":0.026},
{"h":206,"A":0.72,"d":0.04,"f":0.65,"g":0.85,"i":0.7,"j":0.07,"t0":31,"t1":21,"t2":32,"t3":31,"t4":28,"t5":29,"t6":26,"t7":32,"R":0.55,"M":0.025},
{"h":210,"A":0.71,"d":1.07,"f":0.5,"g":0.89,"i":0.69,"j":0.84,"t0":36,"t1":18,"t2":45,"t3":30,"t4":35,"t5":27,"t6":32,"t7":30,"R":0.44,"M":0.027}
],
"sp":[
{"k":"u","h":59,"v":1e-6},{"k":"u","h":59.5,"v":0.0022},{"k":"u","h":60.5,"v":0.0022},{"k":"u","h":61,"v":1e-6},
{"k":"e","h":13.5,"v":1e-6},{"k":"e","h":14,"v":0.0006},{"k":"e","h":14.5,"v":1e-6},
{"k":"e","h":25,"v":1e-6},{"k":"e","h":25.5,"v":0.0006},{"k":"e","h":26,"v":1e-6},
{"k":"e","h":37.5,"v":1e-6},{"k":"e","h":38,"v":0.0006},{"k":"e","h":38.5,"v":1e-6},
{"k":"e","h":50,"v":1e-6},{"k":"e","h":50.5,"v":0.00045},{"k":"e","h":51,"v":1e-6},
{"k":"e","h":88.5,"v":1e-6},{"k":"e","h":89,"v":0.00045},{"k":"e","h":89.5,"v":1e-6},
{"k":"e","h":100.5,"v":1e-6},{"k":"e","h":101,"v":0.0006},{"k":"e","h":101.5,"v":1e-6},
{"k":"e","h":113,"v":1e-6},{"k":"e","h":113.5,"v":0.0006},{"k":"e","h":114,"v":1e-6},
{"k":"e","h":126,"v":1e-6},{"k":"e","h":126.5,"v":0.0006},{"k":"e","h":127,"v":1e-6},
{"k":"e","h":139,"v":1e-6},{"k":"e","h":139.5,"v":0.0006},{"k":"e","h":140,"v":1e-6},
{"k":"e","h":151,"v":1e-6},{"k":"e","h":151.5,"v":0.0006},{"k":"e","h":152,"v":1e-6},
{"k":"e","h":163.5,"v":1e-6},{"k":"e","h":164,"v":0.00045},{"k":"e","h":164.5,"v":1e-6},
{"k":"e","h":177,"v":1e-6},{"k":"e","h":177.5,"v":0.0006},{"k":"e","h":178,"v":1e-6},
{"k":"e","h":189.5,"v":1e-6},{"k":"e","h":190,"v":0.0006},{"k":"e","h":190.5,"v":1e-6},
{"k":"e","h":200.5,"v":1e-6},{"k":"e","h":201,"v":0.0006},{"k":"e","h":201.5,"v":1e-6},
{"k":"I","h":69.5,"v":1e-6},{"k":"I","h":70,"v":0.0005},{"k":"I","h":70.5,"v":1e-6},
{"k":"I","h":73.5,"v":1e-6},{"k":"I","h":74,"v":0.0006},{"k":"I","h":74.5,"v":1e-6},
{"k":"I","h":93,"v":1e-6},{"k":"I","h":93.5,"v":0.0006},{"k":"I","h":94,"v":1e-6},
{"k":"I","h":196,"v":1e-6},{"k":"I","h":196.5,"v":0.0006},{"k":"I","h":197,"v":1e-6}
],
"leg":[
{"r":0,"n":"2-edge\u00a0\u00a0\u00a0\u00a0\u00a0\u00a0timer","cu":"0.00\u00a0","mi":"0.00\u00a0","av":"0.00\u00a0","mx":"0.00\u00a0"},
{"r":1,"n":"8-edge\u00a0\u00a0\u00a0\u00a0\u00a0\u00a0rtc0","cu":"0.00\u00a0","mi":"0.00\u00a0","av":"0.00\u00a0","mx":"0.00\u00a0"},
{"r":2,"n":"9-fasteoi\u00a0\u00a0\u00a0acpi","cu":"0.00\u00a0","mi":"0.00\u00a0","av":"0.00\u00a0","mx":"0.00\u00a0"},
{"r":3,"n":"16-fasteoi\u00a0\u00a0\u00a0ehci_hcd:usb1","cu":"0.00\u00a0","mi":"0.00\u00a0","av":"8.33u","mx":"10.99m"},
{"r":4,"n":"18-fasteoi\u00a0\u00a0\u00a0i801_smbus","cu":"0.00\u00a0","mi":"0.00\u00a0","av":"0.00\u00a0","mx":"0.00\u00a0"},
{"r":5,"n":"22-fasteoi\u00a0\u00a0\u00a0ehci_hcd:usb2","cu":"0.00\u00a0","mi":"0.00\u00a0","av":"0.00\u00a0","mx":"0.00\u00a0"},
{"r":6,"n":"0-edge\u00a0\u00a0\u00a0\u00a0\u00a0\u00a0dmar0","cu":"0.00\u00a0","mi":"0.00\u00a0","av":"0.00\u00a0","mx":"0.00\u00a0"},
{"r":7,"n":"327680-edge\u00a0\u00a0\u00a0\u00a0\u00a0\u00a0xhci_hcd","cu":"0.00\u00a0","mi":"0.00\u00a0","av":"0.00\u00a0","mx":"0.00\u00a0"},
{"r":8,"n":"512000-edge\u00a0\u00a0\u00a0\u00a0\u00a0\u00a0ahci[0000:00:1f.2]","cu":"708.38m","mi":"521.92m","av":"690.77m","mx":"1.27\u00a0"},
{"r":9,"n":"1048576-edge\u00a0\u00a0\u00a0\u00a0\u00a0\u00a0mpt2sas0-msix0","cu":"1.07\u00a0","mi":"0.00\u00a0","av":"998.75m","mx":"16.15\u00a0"},
{"r":10,"n":"1048577-edge\u00a0\u00a0\u00a0\u00a0\u00a0\u00a0mpt2sas0-msix1","cu":"501.02m","mi":"0.00\u00a0","av":"758.48m","mx":"6.22\u00a0"},
{"r":11,"n":"1048578-edge\u00a0\u00a0\u00a0\u00a0\u00a0\u00a0mpt2sas0-msix2","cu":"2.73\u00a0","mi":"155.34m","av":"2.56\u00a0","mx":"22.52\u00a0"},
{"r":12,"n":"1048579-edge\u00a0\u00a0\u00a0\u00a0\u00a0\u00a0mpt2sas0-msix3","cu":"1.87\u00a0","mi":"13.63m","av":"1.93\u00a0","mx":"15.04\u00a0"},
{"r":13,"n":"1048580-edge\u00a0\u00a0\u00a0\u00a0\u00a0\u00a0mpt2sas0-msix4","cu":"2.34\u00a0","mi":"362.62u","av":"1.58\u00a0","mx":"16.44\u00a0"},
{"r":14,"n":"1048581-edge\u00a0\u00a0\u00a0\u00a0\u00a0\u00a0mpt2sas0-msix5","cu":"885.44m","mi":"0.00\u00a0","av":"845.01m","mx":"10.65\u00a0"},
{"r":15,"n":"1048582-edge\u00a0\u00a0\u00a0\u00a0\u00a0\u00a0mpt2sas0-msix6","cu":"686.94m","mi":"0.00\u00a0","av":"736.39m","mx":"9.15\u00a0"},
{"r":16,"n":"1048583-edge\u00a0\u00a0\u00a0\u00a0\u00a0\u00a0mpt2sas0-msix7","cu":"841.47m","mi":"0.00\u00a0","av":"673.33m","mx":"8.55\u00a0"},
{"r":17,"n":"526336-edge\u00a0\u00a0\u00a0\u00a0\u00a0\u00a0enp1s0f1-TxRx-0","cu":"35.86\u00a0","mi":"9.06\u00a0","av":"32.97\u00a0","mx":"69.64\u00a0"},
{"r":18,"n":"526337-edge\u00a0\u00a0\u00a0\u00a0\u00a0\u00a0enp1s0f1-TxRx-1","cu":"17.83\u00a0","mi":"13.24\u00a0","av":"28.18\u00a0","mx":"58.65\u00a0"},
{"r":19,"n":"526338-edge\u00a0\u00a0\u00a0\u00a0\u00a0\u00a0enp1s0f1-TxRx-2","cu":"45.37\u00a0","mi":"16.62\u00a0","av":"34.42\u00a0","mx":"65.61\u00a0"},
{"r":20,"n":"526339-edge\u00a0\u00a0\u00a0\u00a0\u00a0\u00a0enp1s0f1-TxRx-3","cu":"30.30\u00a0","mi":"15.68\u00a0","av":"33.87\u00a0","mx":"64.56\u00a0"},
{"r":21,"n":"526340-edge\u00a0\u00a0\u00a0\u00a0\u00a0\u00a0enp1s0f1-TxRx-4","cu":"34.73\u00a0","mi":"14.03\u00a0","av":"29.60\u00a0","mx":"65.95\u00a0"},
{"r":22,"n":"526341-edge\u00a0\u00a0\u00a0\u00a0\u00a0\u00a0enp1s0f1-TxRx-5","cu":"27.35\u00a0","mi":"12.51\u00a0","av":"29.27\u00a0","mx":"63.59\u00a0"},
{"r":23,"n":"526342-edge\u00a0\u00a0\u00a0\u00a0\u00a0\u00a0enp1s0f1-TxRx-6","cu":"31.64\u00a0","mi":"12.35\u00a0","av":"27.64\u00a0","mx":"63.01\u00a0"},
{"r":24,"n":"526343-edge\u00a0\u00a0\u00a0\u00a0\u00a0\u00a0enp1s0f1-TxRx-7","cu":"30.22\u00a0","mi":"13.44\u00a0","av":"31.12\u00a0","mx":"62.49\u00a0"},
{"r":25,"n":"526344-edge\u00a0\u00a0\u00a0\u00a0\u00a0\u00a0enp1s0f1","cu":"0.00\u00a0","mi":"0.00\u00a0","av":"20.83u","mx":"3.05m"},
{"r":26,"n":"Non-maskable interrupts","cu":"20.33m","mi":"0.00\u00a0","av":"21.78m","mx":"149.07m"},
{"r":27,"n":"Local timer interrupts","cu":"358.71\u00a0","mi":"70.85\u00a0","av":"374.66\u00a0","mx":"1.84k"},
{"r":28,"n":"Spurious interrupts","cu":"0.00\u00a0","mi":"0.00\u00a0","av":"0.00\u00a0","mx":"0.00\u00a0"},
{"r":29,"n":"Performance monitoring interrupts","cu":"20.33m","mi":"0.00\u00a0","av":"21.78m","mx":"149.07m"},
{"r":30,"n":"IRQ work interrupts","cu":"0.00\u00a0","mi":"0.00\u00a0","av":"5.56u","mx":"2.82m"},
{"r":31,"n":"APIC ICR read retries","cu":"0.00\u00a0","mi":"0.00\u00a0","av":"0.00\u00a0","mx":"0.00\u00a0"},
{"r":32,"n":"Rescheduling interrupts","cu":"438.82m","mi":"152.83m","av":"448.74m","mx":"1.44\u00a0"},
{"r":33,"n":"Function call interrupts","cu":"10.72\u00a0","mi":"1.58\u00a0","av":"10.39\u00a0","mx":"88.77\u00a0"},
{"r":34,"n":"TLB shootdowns","cu":"1.17\u00a0","mi":"2.03m","av":"1.07\u00a0","mx":"107.25\u00a0"},
{"r":35,"n":"Thermal event interrupts","cu":"0.00\u00a0","mi":"0.00\u00a0","av":"0.00\u00a0","mx":"0.00\u00a0"},
{"r":36,"n":"Threshold APIC interrupts","cu":"0.00\u00a0","mi":"0.00\u00a0","av":"0.00\u00a0","mx":"0.00\u00a0"},
{"r":37,"n":"Deferred Error APIC interrupts","cu":"0.00\u00a0","mi":"0.00\u00a0","av":"0.00\u00a0","mx":"0.00\u00a0"},
{"r":38,"n":"Machine check exceptions","cu":"0.00\u00a0","mi":"0.00\u00a0","av":"0.00\u00a0","mx":"0.00\u00a0"},
{"r":39,"n":"Machine check polls","cu":"26.66m","mi":"2.33m","av":"25.72m","mx":"46.95m"},
{"r":40,"n":"ERR","cu":"0.00\u00a0","mi":"0.00\u00a0","av":"0.00\u00a0","mx":"0.00\u00a0"},
{"r":41,"n":"MIS","cu":"0.00\u00a0","mi":"0.00\u00a0","av":"0.00\u00a0","mx":"0.00\u00a0"},
{"r":42,"n":"Posted-interrupt notification event","cu":"0.00\u00a0","mi":"0.00\u00a0","av":"0.00\u00a0","mx":"0.00\u00a0"},
{"r":43,"n":"Nested posted-interrupt event","cu":"0.00\u00a0","mi":"0.00\u00a0","av":"0.00\u00a0","mx":"0.00\u00a0"},
{"r":44,"n":"Posted-interrupt wakeup event","cu":"0.00\u00a0","mi":"0.00\u00a0","av":"0.00\u00a0","mx":"0.00\u00a0"}
],
"hd":[{"r":-1,"cu":"Cur:","mi":"Min:","av":"Avg:","mx":"Max:"}],
"ft":[{"r":45,"t":"Last update: Thu May 21 18:51:06 2026"}],
"mn":[{"r":46,"t":"Munin 2.0.57"}]
},
"vconcat":[
{
 "width":400,"height":175,
 "view":{"fill":"white","stroke":null},
 "title":{"text":"Individual interrupts - by week","font":"DejaVu Sans","fontSize":12.4,"fontWeight":"normal","color":"#555555","anchor":"middle","frame":"group","dx":-18.5,"dy":34.5,"offset":4,"baseline":"alphabetic"},
 "encoding":{
  "x":{"field":"h","type":"quantitative","scale":{"domain":[10.85,210.85],"nice":false,"zero":false},
   "axis":{"values":[12,18,24,30,36,42,48,54,60,66,72,78,84,90,96,102,108,114,120,126,132,138,144,150,156,162,168,174,180,186,192,198,204,210],
    "labelExpr":"datum.value % 24 === 12 ? timeFormat(datetime(2026, 4, 13 + floor(datum.value / 24)), '%d %b') : ''",
    "labelOverlap":false,"labelFontSize":9.2,"labelPadding":5,"ticks":false,"tickSize":0,"title":null,
    "domainColor":"#D88A8A",
    "grid":true,"gridDash":[1,1],
    "gridColor":{"condition":{"test":"datum.value % 24 === 0","value":"#E39494"},"value":"#C4C4C4"}}},
  "color":{"field":"k","type":"nominal","legend":null,
   "scale":{"domain":["A","d","f","a","b","c","g","i","j","t0","t1","t2","t3","t4","t5","t6","t7","u","e","L","P","I","R","F","T","M"],
    "range":["#808080","#008F00","#00487D","#B35A00","#B38F00","#6B006B","#8FB300","#B30000","#BEBEBE","#80FF80","#80C9FF","#FFC080","#FFE680","#AA80FF","#EE00CC","#FF8080","#666600","#FFCC00","#FFBFFF","#CC6699","#00CC00","#0066B3","#FFCC00","#330099","#990099","#00487D"]}}
 },
 "resolve":{"axis":{"y":"independent"}},
 "layer":[
  {"data":{"name":"sl"},"transform":[{"fold":["A","d","f","g","i","j"],"as":["k","v"]}],
   "mark":{"type":"line","strokeWidth":1,"clip":true},
   "encoding":{"y":{"field":"v","type":"quantitative",
    "scale":{"type":"log","domain":[0.00007,1740],"nice":false},
    "axis":{"orient":"left",
     "values":[0.00008,0.00009,0.0001,0.0002,0.0003,0.0004,0.0005,0.0006,0.0007,0.0008,0.0009,0.001,0.002,0.003,0.004,0.005,0.006,0.007,0.008,0.009,0.01,0.02,0.03,0.04,0.05,0.06,0.07,0.08,0.09,0.1,0.2,0.3,0.4,0.5,0.6,0.7,0.8,0.9,1,2,3,4,5,6,7,8,9,10,20,30,40,50,60,70,80,90,100,200,300,400,500,600,700,800,900,1000],
     "labelExpr":"abs(log(datum.value)/LN10 - round(log(datum.value)/LN10)) < 0.001 ? ('1e' + (datum.value < 1 ? '-' : '+') + '0' + abs(round(log(datum.value)/LN10))) : ''",
     "labelOverlap":false,"labelFontSize":9.2,"labelPadding":9,"ticks":false,"tickSize":0,
     "domainColor":"#C8D0F0",
     "grid":true,"gridDash":[1,1],
     "gridColor":{"condition":{"test":"abs(log(datum.value)/LN10 - round(log(datum.value)/LN10)) < 0.001","value":"#E39494"},"value":"#C4C4C4"},
     "title":"interrupts / second","titleFontSize":11,"titleX":-56,"titleY":87.5,"titleAlign":"center","titleBaseline":"middle","titleAngle":-90}}}},
  {"data":{"name":"hr"},"transform":[{"fold":["a","b","c"],"as":["k","v"]}],
   "mark":{"type":"line","strokeWidth":1,"clip":true},
   "encoding":{"y":{"field":"v","type":"quantitative","axis":null}}},
  {"data":{"name":"sl"},"transform":[{"fold":["t0","t1","t2","t3","t4","t5","t6","t7"],"as":["k","v"]}],
   "mark":{"type":"line","strokeWidth":1,"clip":true},
   "encoding":{"y":{"field":"v","type":"quantitative","axis":null}}},
  {"data":{"name":"sp"},"transform":[{"filter":"datum.k === 'u' || datum.k === 'e'"}],
   "mark":{"type":"line","strokeWidth":1,"clip":true},
   "encoding":{"y":{"field":"v","type":"quantitative","axis":null}}},
  {"data":{"name":"hr"},"transform":[{"fold":["L","P"],"as":["k","v"]}],
   "mark":{"type":"line","strokeWidth":1,"clip":true},
   "encoding":{"y":{"field":"v","type":"quantitative","axis":null}}},
  {"data":{"name":"sp"},"transform":[{"filter":"datum.k === 'I'"}],
   "mark":{"type":"line","strokeWidth":1,"clip":true},
   "encoding":{"y":{"field":"v","type":"quantitative","axis":null}}},
  {"data":{"name":"sl"},"transform":[{"fold":["R"],"as":["k","v"]}],
   "mark":{"type":"line","strokeWidth":1,"clip":true},
   "encoding":{"y":{"field":"v","type":"quantitative","axis":null}}},
  {"data":{"name":"hr"},"transform":[{"fold":["F","T"],"as":["k","v"]}],
   "mark":{"type":"line","strokeWidth":1,"clip":true},
   "encoding":{"y":{"field":"v","type":"quantitative","axis":null}}},
  {"data":{"name":"sl"},"transform":[{"fold":["M"],"as":["k","v"]}],
   "mark":{"type":"line","strokeWidth":1,"clip":true},
   "encoding":{"y":{"field":"v","type":"quantitative",
    "axis":{"orient":"right","labels":false,"ticks":false,"domain":false,"grid":false,
     "title":"RRDTOOL / TOBI OETIKER","titleFont":"DejaVu Sans","titleFontSize":7.5,"titleColor":"#C8C8C8","titleAngle":90,"titleX":20,"titleY":-23,"titleAlign":"left","titleBaseline":"middle"}}}}
 ]
},
{
 "width":400,"height":564,
 "view":{"stroke":null},
 "data":{"name":"leg"},
 "encoding":{"y":{"field":"r","type":"quantitative","scale":{"domain":[-1,46],"reverse":true,"nice":false,"zero":false},"axis":null}},
 "layer":[
  {"mark":{"type":"square","size":36,"opacity":1},
   "encoding":{"x":{"datum":-49.7,"type":"quantitative","scale":{"domain":[0,400],"nice":false,"zero":false},"axis":null},
    "color":{"field":"r","type":"nominal","legend":null,"scale":{"domain":[0,1,2,3,4,5,6,7,8,9,10,11,12,13,14,15,16,17,18,19,20,21,22,23,24,25,26,27,28,29,30,31,32,33,34,35,36,37,38,39,40,41,42,43,44],
     "range":["#00CC00","#0066B3","#FF8000","#FFCC00","#330099","#990099","#CCFF00","#FF0000","#808080","#008F00","#00487D","#B35A00","#B38F00","#6B006B","#8FB300","#B30000","#BEBEBE","#80FF80","#80C9FF","#FFC080","#FFE680","#AA80FF","#EE00CC","#FF8080","#666600","#FFBFFF","#00FFCC","#CC6699","#999900","#00CC00","#0066B3","#FF8000","#FFCC00","#330099","#990099","#CCFF00","#FF0000","#808080","#008F00","#00487D","#B35A00","#B38F00","#6B006B","#8FB300","#B30000"]}}}},
  {"mark":{"type":"text","align":"left","baseline":"middle"},
   "encoding":{"x":{"datum":-40.7,"type":"quantitative","scale":{"domain":[0,400],"nice":false,"zero":false},"axis":null},"text":{"field":"n"}}},
  {"mark":{"type":"text","align":"right","baseline":"middle"},
   "encoding":{"x":{"datum":234.7,"type":"quantitative","scale":{"domain":[0,400],"nice":false,"zero":false},"axis":null},"text":{"field":"cu"}}},
  {"mark":{"type":"text","align":"right","baseline":"middle"},
   "encoding":{"x":{"datum":295.7,"type":"quantitative","scale":{"domain":[0,400],"nice":false,"zero":false},"axis":null},"text":{"field":"mi"}}},
  {"mark":{"type":"text","align":"right","baseline":"middle"},
   "encoding":{"x":{"datum":355.7,"type":"quantitative","scale":{"domain":[0,400],"nice":false,"zero":false},"axis":null},"text":{"field":"av"}}},
  {"mark":{"type":"text","align":"right","baseline":"middle"},
   "encoding":{"x":{"datum":415.7,"type":"quantitative","scale":{"domain":[0,400],"nice":false,"zero":false},"axis":null},"text":{"field":"mx"}}},
  {"data":{"name":"hd"},"mark":{"type":"text","align":"left","baseline":"middle"},
   "encoding":{"x":{"datum":199,"type":"quantitative","scale":{"domain":[0,400],"nice":false,"zero":false},"axis":null},"text":{"field":"cu"}}},
  {"data":{"name":"hd"},"mark":{"type":"text","align":"left","baseline":"middle"},
   "encoding":{"x":{"datum":259.7,"type":"quantitative","scale":{"domain":[0,400],"nice":false,"zero":false},"axis":null},"text":{"field":"mi"}}},
  {"data":{"name":"hd"},"mark":{"type":"text","align":"left","baseline":"middle"},
   "encoding":{"x":{"datum":319.7,"type":"quantitative","scale":{"domain":[0,400],"nice":false,"zero":false},"axis":null},"text":{"field":"av"}}},
  {"data":{"name":"hd"},"mark":{"type":"text","align":"left","baseline":"middle"},
   "encoding":{"x":{"datum":379.7,"type":"quantitative","scale":{"domain":[0,400],"nice":false,"zero":false},"axis":null},"text":{"field":"mx"}}},
  {"data":{"name":"ft"},"mark":{"type":"text","align":"right","baseline":"middle"},
   "encoding":{"x":{"datum":415.3,"type":"quantitative","scale":{"domain":[0,400],"nice":false,"zero":false},"axis":null},"text":{"field":"t"}}},
  {"data":{"name":"mn"},"mark":{"type":"text","align":"center","baseline":"middle","font":"DejaVu Sans","fontSize":7.2,"color":"#CCCCCC"},
   "encoding":{"x":{"datum":181.5,"type":"quantitative","scale":{"domain":[0,400],"nice":false,"zero":false},"axis":null},"text":{"field":"t"}}}
 ]
}
]
}
